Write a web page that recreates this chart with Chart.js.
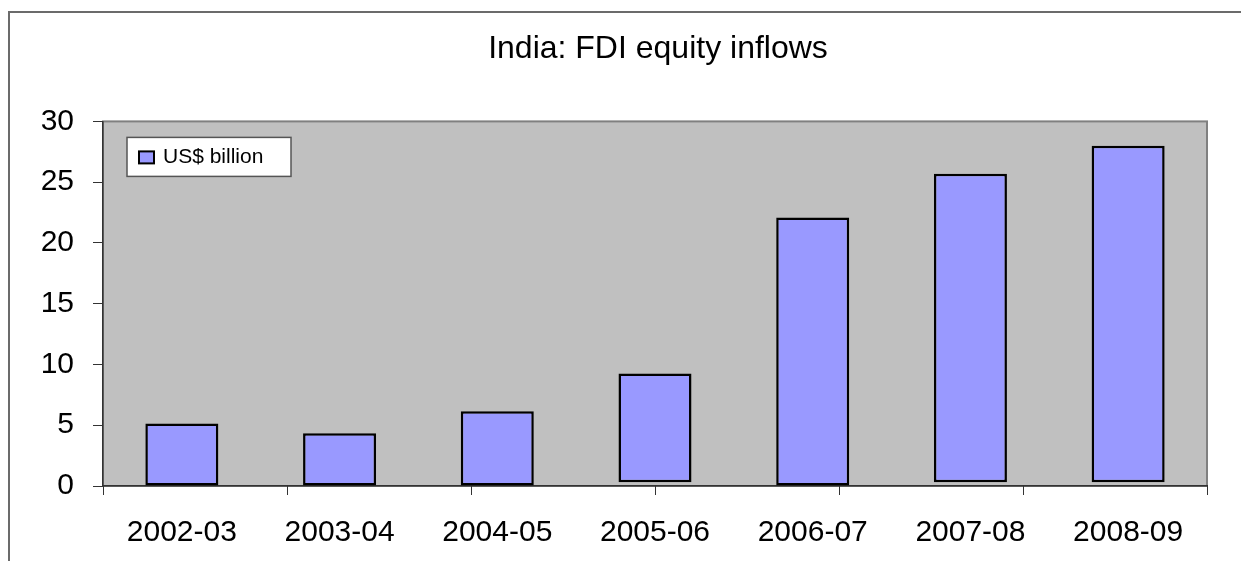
<!DOCTYPE html>
<html>
<head>
<meta charset="utf-8">
<title>India: FDI equity inflows</title>
<script src="https://cdn.jsdelivr.net/npm/chart.js@4/dist/chart.umd.min.js"></script>
<style>
  html, body { margin: 0; padding: 0; background: #fff; }
  #wrap { position: relative; width: 1241px; height: 561px; overflow: hidden; }
  #frame { position: absolute; left: 8px; top: 11px; right: -4px; bottom: -4px;
           border-left: 2px solid #6b6b6b; border-top: 2px solid #6b6b6b; }
  #fdiChart { position: absolute; left: 0; top: 0; }
</style>
</head>
<body>
<div id="wrap">
  <div id="frame"></div>
  <canvas id="fdiChart" width="1241" height="561"></canvas>
</div>
<script>
// values (US$ billion)
const years = ["2002-03", "2003-04", "2004-05", "2005-06", "2006-07", "2007-08", "2008-09"];
const inflows = [5.15, 4.35, 6.15, 9.25, 22.1, 25.7, 28.0];
// some bars in the original float a little above the axis
const barBases = [0, 0, 0, 0.3, 0, 0.3, 0.3];
const yTickValues = [0, 5, 10, 15, 20, 25, 30];

const FONT = "'Liberation Sans', Arial, sans-serif";
const BAR_FILL = "#9999ff";

// grey plot area, legend box, title centred like the original
const plotDecor = {
  id: "plotDecor",
  afterLayout(chart) {
    chart.titleBlock.left = 75;
    chart.titleBlock.right = chart.width;
  },
  beforeDraw(chart) {
    const { ctx, chartArea: a } = chart;
    ctx.save();
    ctx.fillStyle = "#c0c0c0";
    ctx.fillRect(a.left, a.top, a.right - a.left, a.bottom - a.top);
    ctx.strokeStyle = "#808080";
    ctx.lineWidth = 2;
    ctx.strokeRect(a.left, a.top, a.right - a.left, a.bottom - a.top);
    ctx.restore();
  },
  afterDraw(chart) {
    const { ctx, chartArea: a } = chart;
    const ds = chart.data.datasets[0];
    const x = a.left + 24, y = a.top + 16, w = 164, h = 39;
    ctx.save();
    ctx.fillStyle = "#fff";
    ctx.fillRect(x, y, w, h);
    ctx.strokeStyle = "#555";
    ctx.lineWidth = 1.5;
    ctx.strokeRect(x, y, w, h);
    ctx.fillStyle = ds.backgroundColor;
    ctx.fillRect(x + 12, y + 14, 15, 12);
    ctx.strokeStyle = "#000";
    ctx.lineWidth = 2;
    ctx.strokeRect(x + 12, y + 14, 15, 12);
    ctx.fillStyle = "#000";
    ctx.font = "21px " + FONT;
    ctx.textBaseline = "middle";
    ctx.fillText(ds.label, x + 36, y + 20);
    ctx.restore();
  }
};

new Chart(document.getElementById("fdiChart").getContext("2d"), {
  type: "bar",
  data: {
    labels: years,
    datasets: [{
      label: "US$ billion",
      xAxisID: "x",
      data: inflows.map((v, i) => [barBases[i], v]),
      backgroundColor: BAR_FILL,
      borderColor: "#000",
      borderWidth: 2.5,
      borderSkipped: false,
      categoryPercentage: 1,
      barPercentage: 0.463
    }]
  },
  options: {
    responsive: false,
    animation: false,
    layout: { padding: { left: 0, right: 34, top: 0, bottom: 0 } },
    plugins: {
      legend: { display: false },
      tooltip: { enabled: false },
      title: {
        display: true,
        text: "India: FDI equity inflows",
        color: "#000",
        font: { family: FONT, size: 32, weight: "normal" },
        padding: { top: 30, bottom: 53 }
      }
    },
    scales: {
      x: {
        weight: 1,
        afterFit(scale) { scale.height = 75; },
        grid: { display: false },
        border: { color: "#333", width: 1.5 },
        ticks: { color: "#000", padding: 21, font: { family: FONT, size: 30 } }
      },
      // tick marks of the original sit on six equal intervals
      xTicks: {
        type: "linear",
        position: "bottom",
        weight: 0,
        min: 0,
        max: 6,
        offset: false,
        afterFit(scale) { scale.height = 0; },
        ticks: { display: false, stepSize: 1 },
        grid: { offset: false, drawOnChartArea: false, tickLength: 9, color: "#333" },
        border: { display: false }
      },
      y: {
        min: 0,
        max: 30,
        afterFit(scale) { scale.width = 103; },
        afterBuildTicks(scale) { scale.ticks = yTickValues.map(v => ({ value: v })); },
        grid: { drawOnChartArea: false, tickLength: 10, color: "#333" },
        border: { color: "#333", width: 1.5 },
        ticks: { color: "#000", padding: 19, font: { family: FONT, size: 30 } }
      }
    }
  },
  plugins: [plotDecor]
});
</script>
</body>
</html>
